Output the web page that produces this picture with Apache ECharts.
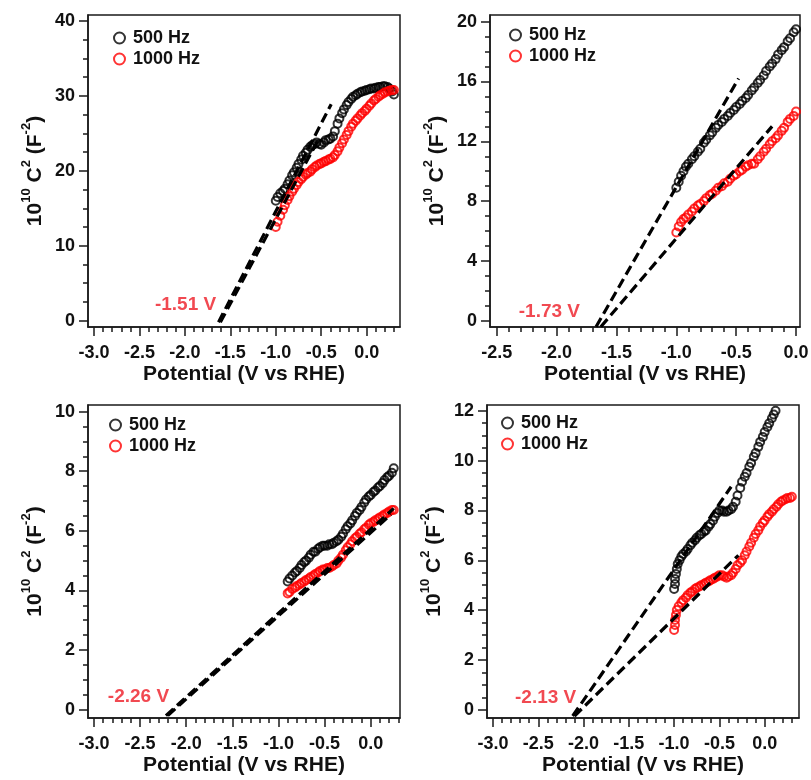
<!DOCTYPE html>
<html>
<head>
<meta charset="utf-8">
<script src="https://cdn.jsdelivr.net/npm/echarts@6/dist/echarts.min.js"></script>
<style>
html,body{margin:0;padding:0;background:#fff;}
#main{width:811px;height:780px;}
</style>
</head>
<body>
<div id="main"></div>
<script>
// ---- panel 1 (top left) ----
var p1Black = [[-1.00,16.0],[-0.98,16.5],[-0.95,17.0],[-0.92,17.3],[-0.90,17.6],[-0.87,18.2],[-0.85,18.7],[-0.82,19.4],[-0.80,19.8],[-0.77,20.4],[-0.75,20.9],[-0.72,21.5],[-0.70,22.0],[-0.67,22.4],[-0.65,22.8],[-0.62,23.2],[-0.60,23.4],[-0.57,23.6],[-0.55,23.8],[-0.52,23.6],[-0.50,23.5],[-0.47,23.8],[-0.45,24.1],[-0.42,24.2],[-0.40,24.3],[-0.37,24.6],[-0.35,25.3],[-0.32,26.3],[-0.30,27.0],[-0.27,27.7],[-0.25,28.2],[-0.22,28.8],[-0.20,29.2],[-0.17,29.6],[-0.15,29.9],[-0.12,30.1],[-0.10,30.3],[-0.07,30.5],[-0.05,30.6],[-0.02,30.7],[0.00,30.8],[0.03,30.9],[0.05,31.0],[0.08,31.0],[0.10,31.1],[0.13,31.2],[0.15,31.2],[0.18,31.3],[0.20,31.3],[0.23,31.2],[0.25,31.0],[0.28,30.6],[0.30,30.2]];
var p1Red = [[-1.00,12.5],[-0.98,13.2],[-0.95,14.0],[-0.92,14.8],[-0.90,15.4],[-0.87,16.1],[-0.85,16.6],[-0.82,17.2],[-0.80,17.6],[-0.77,18.1],[-0.75,18.5],[-0.72,18.9],[-0.70,19.2],[-0.67,19.5],[-0.65,19.7],[-0.62,19.9],[-0.60,20.2],[-0.57,20.5],[-0.55,20.7],[-0.52,20.9],[-0.50,21.0],[-0.47,21.2],[-0.45,21.3],[-0.42,21.5],[-0.40,21.6],[-0.37,21.8],[-0.35,22.1],[-0.32,22.6],[-0.30,23.1],[-0.27,23.7],[-0.25,24.2],[-0.22,24.8],[-0.20,25.3],[-0.17,25.9],[-0.15,26.3],[-0.12,26.7],[-0.10,27.0],[-0.07,27.4],[-0.05,27.7],[-0.02,28.0],[0.00,28.3],[0.03,28.7],[0.05,29.0],[0.08,29.4],[0.10,29.6],[0.13,29.9],[0.15,30.1],[0.18,30.3],[0.20,30.5],[0.23,30.6],[0.25,30.7],[0.28,30.8],[0.30,30.8]];
var p1FitBlack = [[-1.63,-0.2],[-0.39,28.9]];
var p1FitRed = [[-1.61,-0.2],[-0.53,24.2]];
var p1Note = [[-1.65,2.1]];
var p1NoteText = '-1.51 V';
var p1XTicks = [-3.0,-2.5,-2.0,-1.5,-1.0,-0.5,0.0];
var p1YTicks = [0,10,20,30,40];

// ---- panel 2 (top right) ----
var p2Black = [[-1.00,8.9],[-0.98,9.3],[-0.96,9.7],[-0.94,10.0],[-0.92,10.3],[-0.90,10.5],[-0.87,10.8],[-0.85,11.0],[-0.82,11.3],[-0.80,11.5],[-0.77,11.9],[-0.75,12.1],[-0.72,12.4],[-0.70,12.6],[-0.67,12.9],[-0.65,13.1],[-0.62,13.3],[-0.60,13.5],[-0.57,13.7],[-0.55,13.9],[-0.52,14.1],[-0.50,14.3],[-0.47,14.5],[-0.45,14.7],[-0.42,14.9],[-0.40,15.1],[-0.37,15.4],[-0.35,15.6],[-0.32,15.9],[-0.30,16.1],[-0.27,16.4],[-0.25,16.7],[-0.22,17.0],[-0.20,17.2],[-0.17,17.5],[-0.15,17.8],[-0.12,18.1],[-0.10,18.3],[-0.07,18.7],[-0.05,18.9],[-0.02,19.3],[0.00,19.5]];
var p2Red = [[-1.00,5.9],[-0.98,6.3],[-0.96,6.6],[-0.94,6.8],[-0.92,6.9],[-0.90,7.1],[-0.87,7.3],[-0.85,7.5],[-0.82,7.7],[-0.80,7.8],[-0.77,8.0],[-0.75,8.2],[-0.72,8.4],[-0.70,8.5],[-0.67,8.7],[-0.65,8.9],[-0.62,9.0],[-0.60,9.2],[-0.57,9.3],[-0.55,9.5],[-0.52,9.7],[-0.50,9.8],[-0.47,10.0],[-0.45,10.1],[-0.42,10.3],[-0.40,10.4],[-0.37,10.5],[-0.35,10.5],[-0.32,10.8],[-0.30,11.0],[-0.27,11.3],[-0.25,11.5],[-0.22,11.8],[-0.20,12.0],[-0.17,12.2],[-0.15,12.4],[-0.12,12.7],[-0.10,12.9],[-0.07,13.3],[-0.05,13.5],[-0.02,13.7],[0.00,14.0]];
var p2FitBlack = [[-1.67,-0.4],[-0.48,16.2]];
var p2FitRed = [[-1.63,-0.4],[-0.20,13.0]];
var p2Note = [[-1.80,0.58]];
var p2NoteText = '-1.73 V';
var p2XTicks = [-2.5,-2.0,-1.5,-1.0,-0.5,0.0];
var p2YTicks = [0,4,8,12,16,20];

// ---- panel 3 (bottom left) ----
var p3Black = [[-0.90,4.3],[-0.88,4.4],[-0.85,4.5],[-0.82,4.6],[-0.80,4.65],[-0.77,4.75],[-0.75,4.85],[-0.72,4.95],[-0.70,5.0],[-0.67,5.1],[-0.65,5.2],[-0.62,5.3],[-0.60,5.3],[-0.57,5.4],[-0.55,5.45],[-0.52,5.5],[-0.50,5.5],[-0.47,5.5],[-0.45,5.55],[-0.42,5.55],[-0.40,5.6],[-0.37,5.65],[-0.35,5.7],[-0.32,5.8],[-0.30,5.9],[-0.27,6.05],[-0.25,6.15],[-0.22,6.25],[-0.20,6.35],[-0.17,6.5],[-0.15,6.6],[-0.12,6.7],[-0.10,6.8],[-0.07,6.95],[-0.05,7.05],[-0.02,7.15],[0.00,7.2],[0.03,7.3],[0.05,7.35],[0.08,7.45],[0.10,7.5],[0.13,7.6],[0.15,7.7],[0.18,7.8],[0.20,7.85],[0.23,7.95],[0.25,8.1]];
var p3Red = [[-0.90,3.9],[-0.88,3.95],[-0.85,4.05],[-0.82,4.1],[-0.80,4.15],[-0.77,4.2],[-0.75,4.25],[-0.72,4.3],[-0.70,4.35],[-0.67,4.4],[-0.65,4.45],[-0.62,4.5],[-0.60,4.55],[-0.57,4.6],[-0.55,4.65],[-0.52,4.7],[-0.50,4.7],[-0.47,4.75],[-0.45,4.75],[-0.42,4.8],[-0.40,4.85],[-0.37,4.9],[-0.35,5.0],[-0.32,5.1],[-0.30,5.2],[-0.27,5.35],[-0.25,5.45],[-0.22,5.55],[-0.20,5.65],[-0.17,5.75],[-0.15,5.8],[-0.12,5.9],[-0.10,5.95],[-0.07,6.05],[-0.05,6.1],[-0.02,6.2],[0.00,6.25],[0.03,6.3],[0.05,6.35],[0.08,6.4],[0.10,6.45],[0.13,6.5],[0.15,6.55],[0.18,6.6],[0.20,6.65],[0.23,6.7],[0.25,6.7]];
var p3FitBlack = [[-2.22,-0.2],[0.25,6.75]];
var p3FitRed = [[-2.20,-0.2],[0.22,6.55]];
var p3Note = [[-2.18,0.44]];
var p3NoteText = '-2.26 V';
var p3XTicks = [-3.0,-2.5,-2.0,-1.5,-1.0,-0.5,0.0];
var p3YTicks = [0,2,4,6,8,10];

// ---- panel 4 (bottom right) ----
var p4Black = [[-1.00,4.85],[-0.99,5.05],[-0.99,5.25],[-0.98,5.45],[-0.97,5.65],[-0.96,5.85],[-0.94,6.0],[-0.92,6.15],[-0.90,6.25],[-0.87,6.35],[-0.85,6.45],[-0.82,6.6],[-0.80,6.7],[-0.77,6.8],[-0.75,6.9],[-0.72,7.0],[-0.70,7.05],[-0.67,7.15],[-0.65,7.2],[-0.62,7.35],[-0.60,7.45],[-0.57,7.6],[-0.55,7.75],[-0.52,7.9],[-0.50,8.0],[-0.47,8.0],[-0.45,7.95],[-0.42,7.95],[-0.40,8.0],[-0.37,8.05],[-0.35,8.15],[-0.32,8.35],[-0.30,8.6],[-0.27,8.9],[-0.25,9.15],[-0.22,9.35],[-0.20,9.5],[-0.17,9.75],[-0.15,9.9],[-0.12,10.15],[-0.10,10.3],[-0.07,10.55],[-0.05,10.75],[-0.02,10.95],[0.00,11.15],[0.03,11.35],[0.05,11.5],[0.08,11.7],[0.10,11.85],[0.12,12.0]];
var p4Red = [[-1.00,3.2],[-0.99,3.4],[-0.99,3.6],[-0.98,3.8],[-0.97,4.0],[-0.95,4.15],[-0.92,4.3],[-0.90,4.4],[-0.87,4.5],[-0.85,4.6],[-0.82,4.7],[-0.80,4.75],[-0.77,4.85],[-0.75,4.9],[-0.72,4.95],[-0.70,5.0],[-0.67,5.05],[-0.65,5.1],[-0.62,5.15],[-0.60,5.2],[-0.57,5.25],[-0.55,5.3],[-0.52,5.35],[-0.50,5.4],[-0.47,5.4],[-0.45,5.35],[-0.42,5.3],[-0.40,5.35],[-0.37,5.4],[-0.35,5.5],[-0.32,5.65],[-0.30,5.8],[-0.27,5.9],[-0.25,6.0],[-0.22,6.2],[-0.20,6.35],[-0.17,6.55],[-0.15,6.7],[-0.12,6.9],[-0.10,7.05],[-0.07,7.2],[-0.05,7.35],[-0.02,7.5],[0.00,7.6],[0.03,7.75],[0.05,7.85],[0.08,7.95],[0.10,8.05],[0.13,8.15],[0.15,8.25],[0.18,8.35],[0.20,8.4],[0.23,8.45],[0.25,8.5],[0.28,8.5],[0.30,8.55]];
var p4FitBlack = [[-2.12,-0.25],[-0.37,8.95]];
var p4FitRed = [[-2.10,-0.25],[-0.29,6.2]];
var p4Note = [[-2.075,0.48]];
var p4NoteText = '-2.13 V';
var p4XTicks = [-3.0,-2.5,-2.0,-1.5,-1.0,-0.5,0.0];
var p4YTicks = [0,2,4,6,8,10,12];

var FONT = 'Liberation Sans, Arial, sans-serif';
var AXIS = '#1a1a1a';
var RED = '#ff0000';

// layout of each panel: grid box, axis ranges, minor tick steps
var panels = [
	{left:88, top:15, width:312, height:312, xMin:-3.066, xMax:0.367, yMin:-0.84, yMax:40.8,
	 xMinor:[-3.0,0.3,0.1], yMinor:[0,40,2.5], black:p1Black, red:p1Red, fitB:p1FitBlack, fitR:p1FitRed,
	 note:p1Note, noteText:p1NoteText, xt:p1XTicks, yt:p1YTicks, legL:108, legT:24},
	{left:490, top:15, width:310, height:312, xMin:-2.556, xMax:0.033, yMin:-0.42, yMax:20.45,
	 xMinor:[-2.5,0.0,0.1], yMinor:[0,20,1], black:p2Black, red:p2Red, fitB:p2FitBlack, fitR:p2FitRed,
	 note:p2Note, noteText:p2NoteText, xt:p2XTicks, yt:p2YTicks, legL:504, legT:21},
	{left:88, top:405, width:312, height:313, xMin:-3.065, xMax:0.318, yMin:-0.28, yMax:10.22,
	 xMinor:[-3.0,0.3,0.1], yMinor:[0,10,0.5], black:p3Black, red:p3Red, fitB:p3FitBlack, fitR:p3FitRed,
	 note:p3Note, noteText:p3NoteText, xt:p3XTicks, yt:p3YTicks, legL:104, legT:411},
	{left:487, top:405, width:312, height:313, xMin:-3.066, xMax:0.379, yMin:-0.33, yMax:12.23,
	 xMinor:[-3.0,0.3,0.1], yMinor:[0,12,0.5], black:p4Black, red:p4Red, fitB:p4FitBlack, fitR:p4FitRed,
	 note:p4Note, noteText:p4NoteText, xt:p4XTicks, yt:p4YTicks, legL:496, legT:409}
];

function steps(a, b, d){
	var out = [];
	for (var v = a; v <= b + 1e-9; v += d) out.push(+v.toFixed(3));
	return out;
}

var grids = [], xAxes = [], yAxes = [], series = [], legends = [];
var labelStyle = {fontFamily:FONT, fontWeight:'bold', fontSize:18, color:'#111'};
var lineSt = {color:AXIS, width:1.5};

panels.forEach(function(p, i){
	grids.push({left:p.left, top:p.top, width:p.width, height:p.height, show:true,
		borderColor:AXIS, borderWidth:1.5, outerBoundsMode:'none'});
	xAxes.push({
		gridIndex:i, type:'value', min:p.xMin, max:p.xMax, position:'bottom',
		axisLine:{show:true, onZero:false, lineStyle:lineSt},
		axisTick:{show:true, length:9, customValues:p.xt, lineStyle:lineSt},
		axisLabel:Object.assign({customValues:p.xt, margin:17, formatter:function(v){ return v.toFixed(1); }}, labelStyle),
		splitLine:{show:false},
		name:'Potential (V vs RHE)', nameLocation:'middle', nameGap:37, nameMoveOverlap:false,
		nameTextStyle:{fontFamily:FONT, fontWeight:'bold', fontSize:21, color:'#111'}
	});
	// minor ticks
	xAxes.push({
		gridIndex:i, type:'value', min:p.xMin, max:p.xMax, position:'bottom',
		axisLine:{show:false, onZero:false},
		axisTick:{show:true, length:5, customValues:steps(p.xMinor[0], p.xMinor[1], p.xMinor[2]), lineStyle:lineSt},
		axisLabel:{show:false}, splitLine:{show:false}
	});
	yAxes.push({
		gridIndex:i, type:'value', min:p.yMin, max:p.yMax, position:'left',
		axisLine:{show:true, onZero:false, lineStyle:lineSt},
		axisTick:{show:true, length:9, customValues:p.yt, lineStyle:lineSt},
		axisLabel:Object.assign({customValues:p.yt, margin:13}, labelStyle),
		splitLine:{show:false},
		name:'{a|10}{s|10}{a| C}{s|2}{a| (F}{s|-2}{a|)}', nameLocation:'middle', nameGap:38, nameMoveOverlap:false,
		nameTextStyle:{
			fontFamily:FONT, fontWeight:'bold', fontSize:21, color:'#111',
			rich:{
				a:{fontFamily:FONT, fontWeight:'bold', fontSize:21, lineHeight:30, color:'#111'},
				s:{fontFamily:FONT, fontWeight:'bold', fontSize:13, lineHeight:14, verticalAlign:'top', color:'#111'}
			}
		}
	});
	yAxes.push({
		gridIndex:i, type:'value', min:p.yMin, max:p.yMax, position:'left',
		axisLine:{show:false, onZero:false},
		axisTick:{show:true, length:5, customValues:steps(p.yMinor[0], p.yMinor[1], p.yMinor[2]), lineStyle:lineSt},
		axisLabel:{show:false}, splitLine:{show:false}
	});
	var xi = 2 * i, yi = 2 * i;
	series.push({
		name:'500 Hz', type:'scatter', xAxisIndex:xi, yAxisIndex:yi, data:p.black,
		symbol:'circle', symbolSize:8, z:2,
		itemStyle:{color:'rgba(0,0,0,0)', borderColor:'#000', borderWidth:2}
	});
	series.push({
		name:'1000 Hz', type:'scatter', xAxisIndex:xi, yAxisIndex:yi, data:p.red,
		symbol:'circle', symbolSize:8, z:3,
		itemStyle:{color:'rgba(0,0,0,0)', borderColor:RED, borderWidth:2}
	});
	[p.fitB, p.fitR].forEach(function(f){
		series.push({
			name:'fit', type:'line', xAxisIndex:xi, yAxisIndex:yi, data:f,
			symbol:'none', z:4, lineStyle:{color:'#000', width:3.2, type:[10,5]}
		});
	});
	series.push({
		name:'note', type:'scatter', xAxisIndex:xi, yAxisIndex:yi, data:p.note,
		symbolSize:1, itemStyle:{color:'rgba(0,0,0,0)'}, z:5,
		label:{show:true, position:'left', distance:0, formatter:p.noteText,
			fontFamily:FONT, fontWeight:'bold', fontSize:19, color:'#ee1c25'}
	});
	legends.push({
		left:p.legL, top:p.legT, orient:'vertical', selectedMode:false,
		itemWidth:11, itemHeight:11, itemGap:3,
		textStyle:{fontFamily:FONT, fontWeight:'bold', fontSize:18, color:'#111', padding:[0,0,0,3]},
		data:[
			{name:'500 Hz', icon:'circle', itemStyle:{color:'#fff', borderColor:'#000', borderWidth:2}},
			{name:'1000 Hz', icon:'circle', itemStyle:{color:'#fff', borderColor:RED, borderWidth:2}}
		]
	});
});

var chart = echarts.init(document.getElementById('main'));
chart.setOption({
	animation:false,
	backgroundColor:'#fff',
	grid:grids,
	xAxis:xAxes,
	yAxis:yAxes,
	legend:legends,
	series:series
});
</script>
</body>
</html>
